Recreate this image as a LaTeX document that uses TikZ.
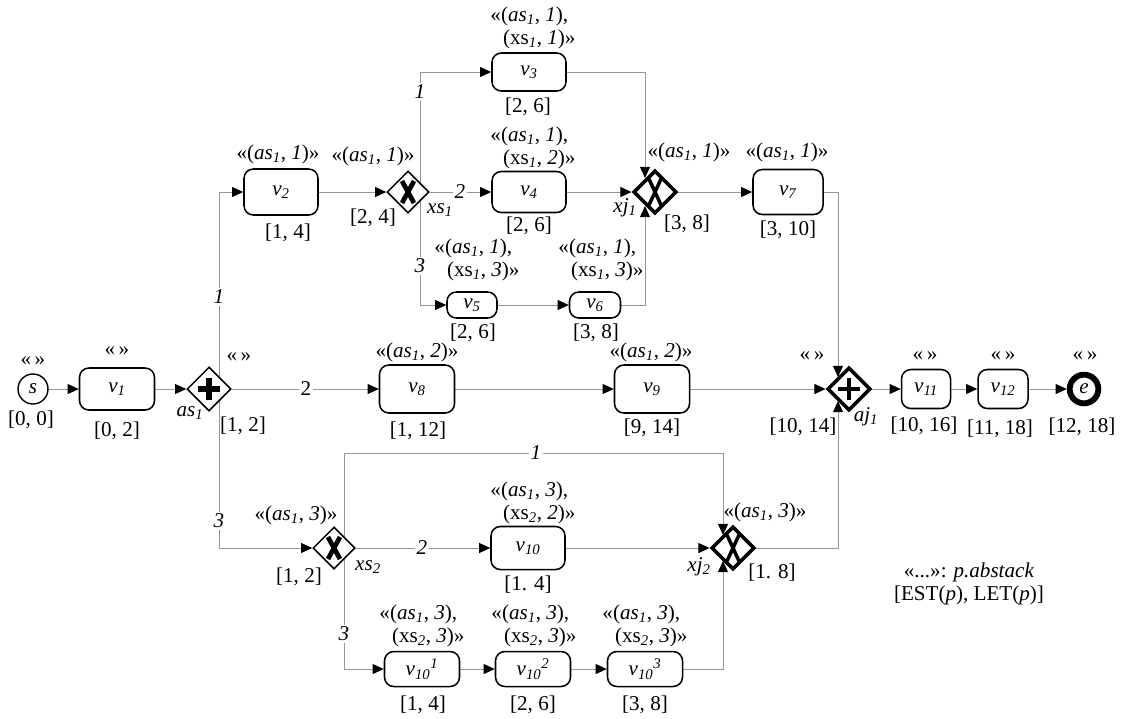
\documentclass[tikz,border=0pt]{standalone}
\usepackage{fontspec}
\setmainfont{Liberation Serif}
\usetikzlibrary{arrows.meta,shapes.geometric,calc}
\pgfdeclarelayer{bg}
\pgfsetlayers{bg,main}
\definecolor{ln}{RGB}{150,150,150}
\newcommand\asn[1]{\textit{as}\textsubscript{\textit{#1}}}
\newcommand\vn[1]{\textit{v}\textsubscript{\textit{#1}}}
\newcommand\abl[1]{«(\asn{1}, \textit{#1})»}
\newcommand\twolab[3]{«(\asn{1}, \textit{#1}),\\\hspace*{0.38cm}(xs\textsubscript{\textit{#2}}, \textit{#3})»}
\newcommand\emp{«\thinspace»}
\begin{document}
\begin{tikzpicture}[x=0.03cm,y=-0.03cm,
  font=\fontsize{18}{19.5}\selectfont,
  task/.style={draw, line width=1.3pt, rounded corners=8pt, fill=white, inner sep=0pt},
  lab/.style={inner sep=0pt},
  elab/.style={fill=white, inner sep=1.5pt, font=\fontsize{18}{19.5}\selectfont\itshape},
  flow/.style={draw=ln, line width=0.8pt, -{Triangle[length=9.5pt,width=8.5pt,color=black]}},
  gwthin/.style={diamond, aspect=1, draw, line width=1.3pt, fill=white, inner sep=0pt, minimum size=1.26cm},
  gwthick/.style={diamond, aspect=1, draw, line width=3pt, fill=white, inner sep=0pt, minimum size=1.3cm},
  xmk/.style={line width=4pt},
  xjmk/.style={line width=3pt}]
\useasboundingbox (0,0) rectangle (1128,718);

% ---------- nodes ----------
\node[circle, draw, line width=1.2pt, fill=white, minimum size=0.9cm, inner sep=0pt] (s) at (33,389) {\textit{s}};
\node[task, minimum width=2.25cm, minimum height=1.26cm] (v1) at (117,389) {\vn{1}};
\node[gwthin, minimum size=1.32cm] (as1) at (209,389) {};
\node[task, minimum width=2.22cm, minimum height=1.38cm] (v2) at (281,192) {\vn{2}};
\node[gwthin] (xs1) at (408,192) {};
\node[task, minimum width=2.22cm, minimum height=1.14cm] (v3) at (529,72) {\vn{3}};
\node[task, minimum width=2.22cm, minimum height=1.23cm] (v4) at (529,192) {\vn{4}};
\node[gwthick] (xj1) at (655,192) {};
\node[task, minimum width=2.1cm, minimum height=1.35cm] (v7) at (788,192) {\vn{7}};
\node[task, minimum width=1.5cm, minimum height=0.78cm] (v5) at (472,305) {\vn{5}};
\node[task, minimum width=1.53cm, minimum height=0.78cm] (v6) at (595,305) {\vn{6}};
\node[task, minimum width=2.25cm, minimum height=1.44cm] (v8) at (417,389) {\vn{8}};
\node[task, minimum width=2.25cm, minimum height=1.44cm] (v9) at (652,389) {\vn{9}};
\node[gwthick] (aj1) at (849,389) {};
\node[task, minimum width=1.47cm, minimum height=1.17cm] (v11) at (926,389) {\vn{11}};
\node[task, minimum width=1.5cm, minimum height=1.17cm] (v12) at (1003,389) {\vn{12}};
\node[circle, draw, line width=5pt, fill=white, minimum size=0.86cm, inner sep=0pt] (e) at (1084,389) {\textit{e}};
\node[gwthin] (xs2) at (334,548) {};
\node[task, minimum width=2.22cm, minimum height=1.29cm] (v10) at (528,548) {\vn{10}};
\node[gwthick] (xj2) at (733,548) {};
\node[task, minimum width=2.25cm, minimum height=1.05cm] (v101) at (422,669) {\vn{10}\textsuperscript{\textit{1}}};
\node[task, minimum width=2.25cm, minimum height=1.05cm] (v102) at (533,669) {\vn{10}\textsuperscript{\textit{2}}};
\node[task, minimum width=2.25cm, minimum height=1.05cm] (v103) at (645,669) {\vn{10}\textsuperscript{\textit{3}}};

% ---------- gateway markers ----------
\draw[line width=5.5pt] ($(as1)+(-11,0)$) -- ($(as1)+(11,0)$) ($(as1)+(0,-11)$) -- ($(as1)+(0,11)$);
\draw[line width=3.8pt] ($(aj1)+(-11,0)$) -- ($(aj1)+(11,0)$) ($(aj1)+(0,-11)$) -- ($(aj1)+(0,11)$);
\draw[xmk] ($(xs1)+(-6,-11)$) -- ($(xs1)+(6,11)$) ($(xs1)+(-6,11)$) -- ($(xs1)+(6,-11)$);
\draw[xmk] ($(xs2)+(-6,-11)$) -- ($(xs2)+(6,11)$) ($(xs2)+(-6,11)$) -- ($(xs2)+(6,-11)$);
\draw[xjmk] ($(xj1)+(-6,-13)$) -- ($(xj1)+(6,13)$) ($(xj1)+(-6,13)$) -- ($(xj1)+(6,-13)$);
\draw[xjmk] ($(xj2)+(-6,-13)$) -- ($(xj2)+(6,13)$) ($(xj2)+(-6,13)$) -- ($(xj2)+(6,-13)$);

% ---------- connectors ----------
\coordinate (as1c) at (219,389);
\coordinate (xs1c) at (420,192);
\coordinate (xj1t) at (645,178);
\coordinate (xj1b) at (645,206);
\coordinate (aj1t) at (838,377);
\coordinate (aj1b) at (838,401);
\coordinate (xs2c) at (344,548);
\coordinate (k1) at (344,453);
\coordinate (xj2t) at (723,535);
\coordinate (xj2b) at (723,561);
\begin{pgfonlayer}{bg}
\draw[flow] (s) -- (v1);
\draw[flow] (v1) -- (as1);
\draw[flow] (as1c) |- (v2.west);
\draw[flow] (as1c) |- (xs2.west);
\draw[flow] (as1.east) -- (v8.west);
\draw[flow] (v2) -- (xs1);
\draw[flow] (xs1c) |- (v3.west);
\draw[flow] (xs1c) |- (v5.west);
\draw[flow] (xs1) -- (v4);
\draw[flow] (v3.east) -| (xj1t);
\draw[flow] (v4) -- (xj1);
\draw[flow] (v5) -- (v6);
\draw[flow] (v6.east) -| (xj1b);
\draw[flow] (xj1) -- (v7);
\draw[flow] (v7.east) -| (aj1t);
\draw[flow] (v8) -- (v9);
\draw[flow] (v9) -- (aj1);
\draw[flow] (aj1) -- (v11);
\draw[flow] (v11) -- (v12);
\draw[flow] (v12) -- (e);
\draw[flow] (xs2c) -- (k1) -| (xj2t);
\draw[flow] (xs2) -- (v10);
\draw[flow] (xs2c) |- (v101.west);
\draw[flow] (v10) -- (xj2);
\draw[flow] (v101) -- (v102);
\draw[flow] (v102) -- (v103);
\draw[flow] (v103.east) -| (xj2b);
\draw[flow] (xj2.east) -| (aj1b);
\end{pgfonlayer}

% ---------- edge labels ----------
\node[elab, font=\fontsize{18}{19.5}\selectfont\upshape] (l1) at (306,389) {2};
\node[elab] (l2) at (219,297) {1};
\node[elab] (l3) at (219,521) {3};
\node[elab] (l4) at (420,92) {1};
\node[elab] (l5) at (420,266) {3};
\node[elab] (l6) at (460,192) {2};
\node[elab] (l7) at (536,453) {1};
\node[elab] (l8) at (422,548) {2};
\node[elab] (l9) at (344,634) {3};

% ---------- annotations ----------
\node[lab] (sa) at (33,361) {\emp};
\node[lab] (st) at (31,420) {[0, 0]};
\node[lab] (v1a) at (117,351) {\emp};
\node[lab] (v1t) at (117,431) {[0, 2]};
\node[lab] (as1a) at (239,357) {\emp};
\node[lab] (as1t) at (243,426) {[1, 2]};
\node[lab] (as1n) at (190,413) {\asn{1}};
\node[lab] (v2a) at (278,154) {\abl{1}};
\node[lab] (v2t) at (288,233) {[1, 4]};
\node[lab] (xs1a) at (373,156) {\abl{1}};
\node[lab] (xs1t) at (373,218) {[2, 4]};
\node[lab] (xs1n) at (440,210) {\textit{xs}\textsubscript{\textit{1}}};
\node[lab, align=left] (v3a) at (533,28) {\twolab{1}{1}{1}};
\node[lab] (v3t) at (528,107) {[2, 6]};
\node[lab, align=left] (v4a) at (533,148) {\twolab{1}{1}{2}};
\node[lab] (v4t) at (529,226) {[2, 6]};
\node[lab] (xj1a) at (689,152) {\abl{1}};
\node[lab] (xj1t) at (687,224) {[3, 8]};
\node[lab] (xj1n) at (625,208) {\textit{xj}\textsubscript{\textit{1}}};
\node[lab] (v7a) at (787,152) {\abl{1}};
\node[lab] (v7t) at (788,230) {[3, 10]};
\node[lab, align=left] (v5a) at (477,260) {\twolab{1}{1}{3}};
\node[lab] (v5t) at (473,333) {[2, 6]};
\node[lab, align=left] (v6a) at (601,260) {\twolab{1}{1}{3}};
\node[lab] (v6t) at (596,333) {[3, 8]};
\node[lab] (v8a) at (417,352) {\abl{2}};
\node[lab] (v8t) at (418,431) {[1, 12]};
\node[lab] (v9a) at (651,352) {\abl{2}};
\node[lab] (v9t) at (652,428) {[9, 14]};
\node[lab] (aj1a) at (812,356) {\emp};
\node[lab] (aj1t) at (803,427) {[10, 14]};
\node[lab] (aj1n) at (866,417) {\textit{aj}\textsubscript{\textit{1}}};
\node[lab] (v11a) at (925,356) {\emp};
\node[lab] (v11t) at (924,426) {[10, 16]};
\node[lab] (v12a) at (1003,356) {\emp};
\node[lab] (v12t) at (1000,429) {[11, 18]};
\node[lab] (ea) at (1085,356) {\emp};
\node[lab] (et) at (1082,427) {[12, 18]};
\node[lab] (xs2a) at (296,515) {\abl{3}};
\node[lab] (xs2t) at (299,577) {[1, 2]};
\node[lab] (xs2n) at (368,567) {\textit{xs}\textsubscript{\textit{2}}};
\node[lab, align=left] (v10a) at (533,503) {\twolab{3}{2}{2}};
\node[lab] (v10t) at (528,585) {[1. 4]};
\node[lab] (xj2a) at (765,512) {\abl{3}};
\node[lab] (xj2t) at (772,573) {[1. 8]};
\node[lab] (xj2n) at (699,567) {\textit{xj}\textsubscript{\textit{2}}};
\node[lab, align=left] (v101a) at (422,626) {\twolab{3}{2}{3}};
\node[lab] (v101t) at (423,705) {[1, 4]};
\node[lab, align=left] (v102a) at (534,626) {\twolab{3}{2}{3}};
\node[lab] (v102t) at (533,705) {[2, 6]};
\node[lab, align=left] (v103a) at (645,626) {\twolab{3}{2}{3}};
\node[lab] (v103t) at (645,705) {[3, 8]};
\node[lab] (lg1) at (969,572) {«...»: \textit{p.abstack}};
\node[lab] (lg2) at (969,595) {[EST(\textit{p}), LET(\textit{p})]};
\end{tikzpicture}
\end{document}
